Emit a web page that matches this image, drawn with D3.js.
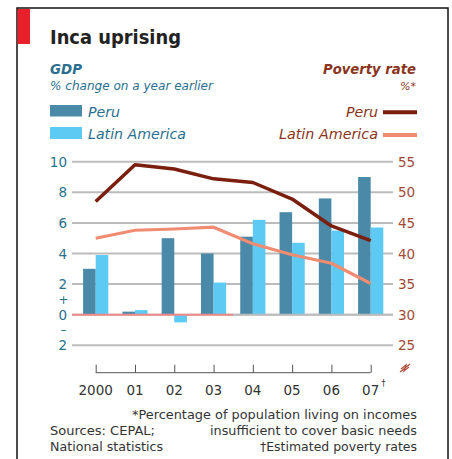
<!DOCTYPE html>
<html><head><meta charset="utf-8">
<script src="https://cdn.jsdelivr.net/npm/d3@7"></script>
<style>body{margin:0;background:#fff;} svg{display:block;}</style>
</head><body>
<svg id="c" width="452" height="459"></svg>
<script>
const years = ["2000","01","02","03","04","05","06","07"];
const gdpPeru = [3.0, 0.2, 5.0, 4.0, 5.1, 6.7, 7.6, 9.0];
const gdpLatAm = [3.9, 0.3, -0.5, 2.1, 6.2, 4.7, 5.5, 5.7];
const povPeru = [48.5, 54.5, 53.8, 52.2, 51.6, 48.9, 44.5, 42.1];
const povLatAm = [42.5, 43.8, 44.0, 44.3, 41.6, 39.8, 38.4, 35.1];
const leftTicks = [-2, 0, 2, 4, 6, 8, 10];
const rightTicks = [25, 30, 35, 40, 45, 50, 55];

const C = {peruBar:"#4a8aa8", latBar:"#5ccaf2", peruLine:"#7a1e0e", latLine:"#f08c72",
  teal:"#2a6f8f", brown:"#8a3420", rightLbl:"#a04a36", grid:"#bcbcbc", red:"#e8202a"};
const F = "'DejaVu Sans', 'Noto Sans', sans-serif";
const svg = d3.select("#c");

// frame
svg.append("rect").attr("x",17).attr("y",8).attr("width",431).attr("height",470)
  .attr("fill","none").attr("stroke","#111").attr("stroke-width",1.5);
svg.append("rect").attr("x",17.5).attr("y",9).attr("width",12.5).attr("height",35).attr("fill",C.red);

function txt(x,y,s,o){
  const t = svg.append("text").attr("x",x).attr("y",y).text(s)
    .attr("font-family",F).attr("font-size",o.size||12).attr("fill",o.fill||"#222");
  if(o.weight) t.attr("font-weight",o.weight);
  if(o.italic) t.attr("font-style","italic");
  if(o.anchor) t.attr("text-anchor",o.anchor);
  if(o.len) t.attr("textLength",o.len).attr("lengthAdjust","spacingAndGlyphs");
  return t;
}
txt(50,43.5,"Inca uprising",{size:19,weight:"bold",fill:"#222",len:131});
txt(50,73.5,"GDP",{size:14,weight:"bold",italic:true,fill:C.teal,len:32});
txt(50,90,"% change on a year earlier",{size:11.5,italic:true,fill:C.teal,len:163});
txt(416,74,"Poverty rate",{size:14,weight:"bold",italic:true,fill:C.brown,anchor:"end",len:93});
txt(416,90,"%*",{size:11,italic:true,fill:C.brown,anchor:"end"});

// legends
svg.append("rect").attr("x",50).attr("y",105).attr("width",32).attr("height",11.5).attr("fill",C.peruBar);
svg.append("rect").attr("x",50).attr("y",127).attr("width",32).attr("height",12).attr("fill",C.latBar);
txt(88,116.5,"Peru",{size:14,italic:true,fill:C.teal,len:32});
txt(88,138.5,"Latin America",{size:14,italic:true,fill:C.teal,len:98});
txt(378,116.5,"Peru",{size:14,italic:true,fill:C.brown,anchor:"end",len:32});
txt(378,138.5,"Latin America",{size:14,italic:true,fill:C.brown,anchor:"end",len:99});
svg.append("line").attr("x1",383).attr("x2",417).attr("y1",112.3).attr("y2",112.3).attr("stroke",C.peruLine).attr("stroke-width",4);
svg.append("line").attr("x1",383).attr("x2",417).attr("y1",135).attr("y2",135).attr("stroke",C.latLine).attr("stroke-width",4);

// scales
const x = d3.scalePoint().domain(years).range([95.7, 370.7]);
const yL = d3.scaleLinear().domain([-2,10]).range([345.3,161.7]);
const yR = d3.scaleLinear().domain([25,55]).range([345.3,161.7]);
const bw = 12.6;

// gridlines
svg.append("g").selectAll("line").data(leftTicks).join("line")
  .attr("x1",72).attr("x2",393).attr("y1",d=>yL(d)).attr("y2",d=>yL(d))
  .attr("stroke",C.grid).attr("stroke-width",2);

// left tick labels
svg.append("g").selectAll("text").data(leftTicks).join("text")
  .attr("x",67).attr("y",d=>yL(d)+5).attr("text-anchor","end")
  .attr("font-family",F).attr("font-size",13.5).attr("fill",C.teal).text(d=>Math.abs(d));
txt(63.5,304,"+",{size:12,fill:C.teal,anchor:"middle"});
txt(63.5,334,"\u2013",{size:12,fill:C.teal,anchor:"middle"});
// right tick labels
svg.append("g").selectAll("text").data(rightTicks).join("text")
  .attr("x",398).attr("y",d=>yR(d)+5).attr("text-anchor","start")
  .attr("font-family",F).attr("font-size",13.5).attr("fill",C.rightLbl).text(d=>d);

// bars
svg.append("g").selectAll("rect").data(gdpPeru).join("rect")
  .attr("x",(d,i)=>x(years[i])-bw).attr("width",bw)
  .attr("y",d=>Math.min(yL(d),yL(0))).attr("height",d=>Math.abs(yL(d)-yL(0)))
  .attr("fill",C.peruBar);
svg.append("g").selectAll("rect").data(gdpLatAm).join("rect")
  .attr("x",(d,i)=>x(years[i])).attr("width",bw)
  .attr("y",d=>Math.min(yL(d),yL(0))).attr("height",d=>Math.abs(yL(d)-yL(0)))
  .attr("fill",C.latBar);

// zero line
svg.append("line").attr("x1",72).attr("x2",233).attr("y1",yL(0)).attr("y2",yL(0)).attr("stroke","#f08a8a").attr("stroke-width",2);
svg.append("line").attr("x1",233).attr("x2",393).attr("y1",yL(0)).attr("y2",yL(0)).attr("stroke",C.grid).attr("stroke-width",2);

// poverty lines
const line = d3.line().x((d,i)=>x(years[i])).y(d=>yR(d));
svg.append("path").datum(povLatAm).attr("d",line).attr("fill","none").attr("stroke",C.latLine).attr("stroke-width",3.2).attr("stroke-linejoin","round");
svg.append("path").datum(povPeru).attr("d",line).attr("fill","none").attr("stroke",C.peruLine).attr("stroke-width",3.5).attr("stroke-linejoin","round");

// x axis
const ax = svg.append("g").attr("transform","translate(0,372.7)")
  .call(d3.axisTop(x).tickSize(8).tickFormat(""));
ax.select(".domain").attr("stroke","#555").attr("d","M95.7,0H370.7");
ax.selectAll(".tick line").attr("stroke","#555");
svg.append("g").selectAll("text").data(years).join("text")
  .attr("x",d=>x(d)).attr("y",395).attr("text-anchor","middle")
  .attr("font-family",F).attr("font-size",13.5).attr("fill","#333").text(d=>d);
txt(381.5,386,"\u2020",{size:8,fill:"#333"});

// break symbol
svg.append("path").attr("d","M400,372 l5,-4 l-1,3 l5,-4 M401,369 l5,-4 l-1,3 l5,-4")
  .attr("fill","none").attr("stroke","#b0503a").attr("stroke-width",1.2);

// footnotes
txt(417,418.5,"*Percentage of population living on incomes",{size:12,fill:"#333",anchor:"end",len:285});
txt(50,434.5,"Sources: CEPAL;",{size:12,fill:"#333",len:105});
txt(417,434.5,"insufficient  to cover basic needs",{size:12,fill:"#333",anchor:"end",len:207});
txt(50,450.5,"National statistics",{size:12,fill:"#333",len:113});
txt(417,450.5,"\u2020Estimated poverty rates",{size:12,fill:"#333",anchor:"end",len:157});
</script>
</body></html>
